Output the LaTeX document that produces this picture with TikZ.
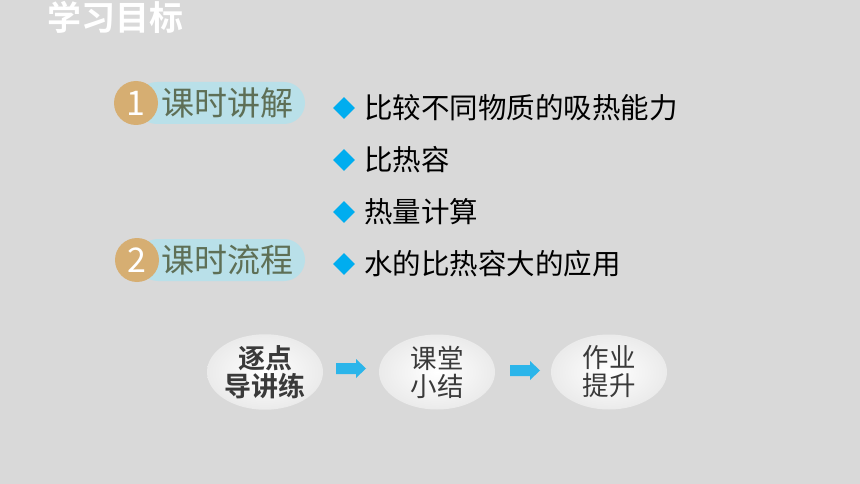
\documentclass[tikz,border=0pt]{standalone}
\usepackage{fontspec}
\newfontfamily\cjk{Noto Sans CJK SC}
\newfontfamily\cjkb{Noto Sans CJK SC Bold}
\usetikzlibrary{shapes.geometric,shadings}
\definecolor{bg}{HTML}{D9D9D9}
\definecolor{pill}{HTML}{B9E0E9}
\definecolor{badge}{HTML}{D6AE72}
\definecolor{lbl}{HTML}{5E6F56}
\definecolor{dia}{HTML}{00ADEF}
\definecolor{arr}{HTML}{2BB5EA}
\definecolor{etext}{HTML}{3A3A3A}
\tikzset{
  pillbox/.style={fill=pill, rounded corners=21pt},
  badgecirc/.style={circle, fill=badge, minimum size=44pt, inner sep=0pt, text=white, font=\cjk\fontsize{34}{34}\selectfont},
  pilltext/.style={anchor=west, inner sep=0pt, text=lbl, font=\cjk\fontsize{33}{33}\selectfont},
  bullet/.style={anchor=west, inner sep=0pt, text=black, font=\cjk\fontsize{28.5}{28.5}\selectfont},
  diam/.style={diamond, fill=dia, minimum width=22pt, minimum height=22pt, inner sep=0pt},
  ell/.style={ellipse, minimum width=116pt, minimum height=75pt, inner sep=0pt, inner color=white, outer color=black!8, align=center, text=etext, font=\cjk\fontsize{26.5}{28}\selectfont},
  blockarr/.style={fill=arr}
}
\begin{document}
\begin{tikzpicture}[x=1pt,y=-1pt]
\fill[bg] (0,0) rectangle (860,484);
\useasboundingbox (0,0) rectangle (860,484);
\node[anchor=west, inner sep=0pt, text=white, font=\cjkb\fontsize{34}{34}\selectfont] (title) at (47,17) {学习目标};
% badge 1
\fill[pillbox] (136,82) rectangle (305,124);
\node[badgecirc] (b1) at (136,103) {1};
\node[pilltext] (t1) at (161,103) {课时讲解};
% badge 2
\fill[pillbox] (137,239) rectangle (305,281);
\node[badgecirc] (b2) at (137,260) {2};
\node[pilltext] (t2) at (161,260) {课时流程};
% bullets
\node[diam] (d1) at (344,108) {};
\node[bullet] (l1) at (364,108) {比较不同物质的吸热能力};
\node[diam] (d2) at (344,160) {};
\node[bullet] (l2) at (364,160) {比热容};
\node[diam] (d3) at (344,212) {};
\node[bullet] (l3) at (364,212) {热量计算};
\node[diam] (d4) at (344,264) {};
\node[bullet] (l4) at (364,264) {水的比热容大的应用};
% flow
\node[ell, font=\cjkb\fontsize{27}{28}\selectfont] (e1) at (265,372) {逐点\\导讲练};
\node[ell] (e2) at (437,372) {课堂\\小结};
\node[ell] (e3) at (609,372) {作业\\提升};
\coordinate (a1) at (336,368.5);
\coordinate (a2) at (510,370.5);
\fill[blockarr] (a1) ++(0,-5.5) -- ++(20,0) -- ++(0,-4) -- ++(10,9.5) -- ++(-10,9.5) -- ++(0,-4) -- ++(-20,0) -- cycle;
\fill[blockarr] (a2) ++(0,-5.5) -- ++(20,0) -- ++(0,-4) -- ++(10,9.5) -- ++(-10,9.5) -- ++(0,-4) -- ++(-20,0) -- cycle;
\end{tikzpicture}
\end{document}
